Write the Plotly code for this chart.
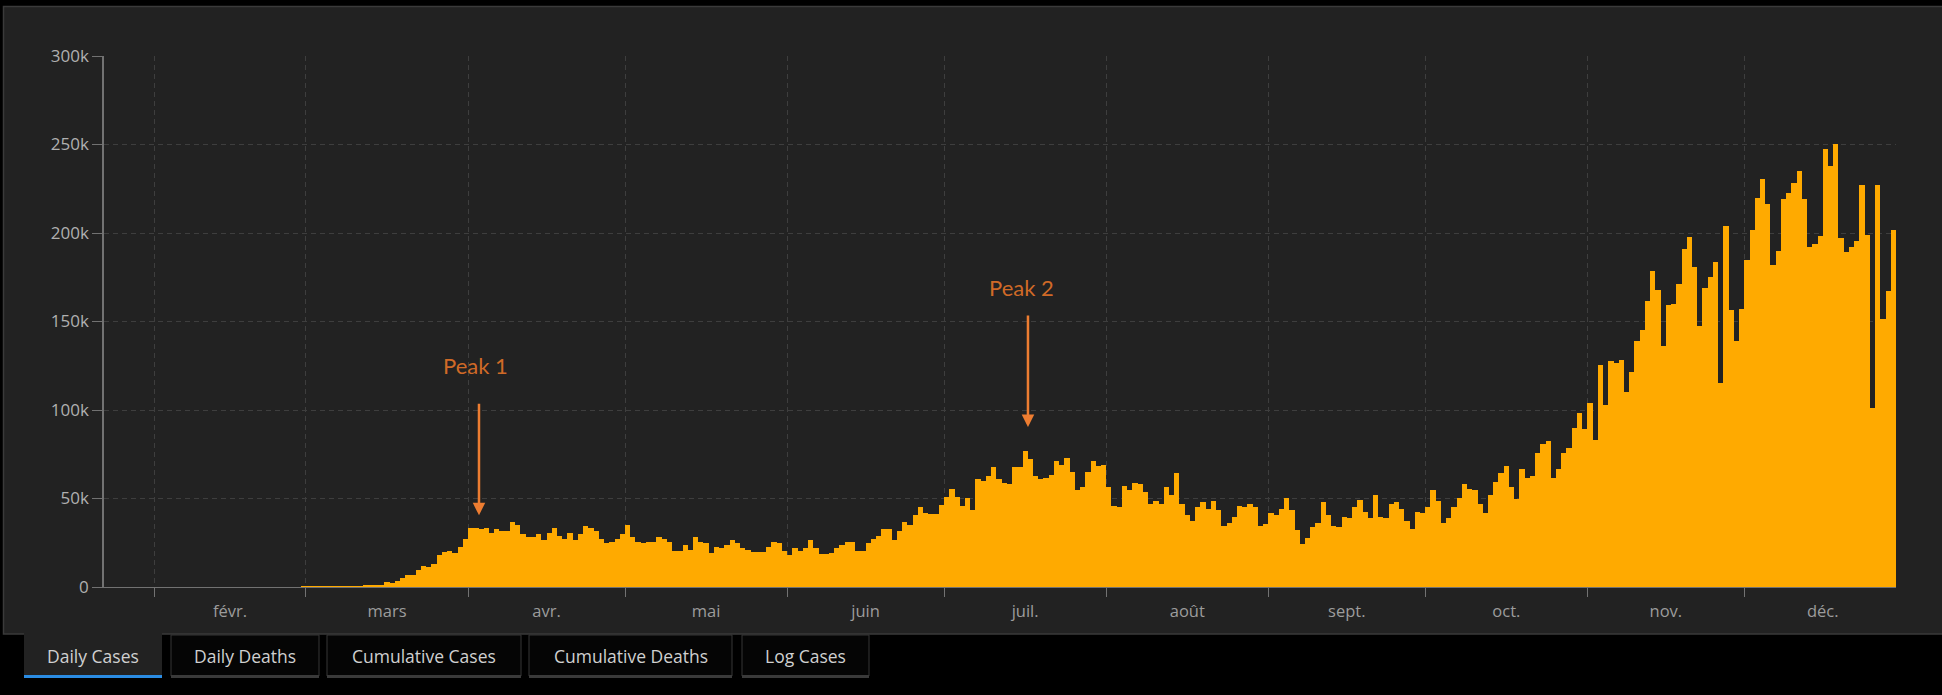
import pandas as pd
import plotly.graph_objects as go

# daily new cases 2020 (thousands), 22 Jan -> 29 Dec
start_date = "2020-01-22"
cases_jan = [0, 0, 0.001, 0, 0.001, 0, 0, 0, 0, 0.001]
cases_feb = [0.001, 0.001, 0, 0, 0.001, 0, 0, 0, 0, 0.001,
             0, 0.001, 0, 0, 0, 0, 0, 0, 0, 0,
             0, 0, 0, 0, 0, 0, 0.001, 0.001, 0.006]
cases_mar = [0.02, 0.02, 0.03, 0.03, 0.07, 0.08, 0.1, 0.12, 0.15, 0.25,
             0.5, 1.2, 1.3, 1.3, 0.8, 2.6, 2.3, 3.4, 5.1, 7.0,
             7.0, 9.4, 12.0, 11.3, 13.0, 18.3, 19.6, 20.2, 19.2, 22.6, 27.0]
cases_apr = [33.3, 33.3, 32.6, 33.3, 30.7, 32.6, 31.6, 31.6, 36.7, 35.2,
             30.0, 28.0, 28.0, 30.0, 26.4, 30.7, 33.3, 29.0, 27.0, 30.7,
             26.4, 29.7, 34.3, 33.3, 31.6, 27.0, 24.7, 25.4, 27.0, 30.0]
cases_may = [35.2, 28.0, 25.4, 24.7, 25.4, 25.4, 28.0, 27.0, 25.4, 20.2,
             20.2, 23.5, 21.0, 28.0, 25.4, 24.7, 19.2, 22.8, 22.0, 23.7,
             26.4, 24.7, 21.8, 21.0, 19.6, 19.6, 19.6, 22.8, 25.4, 24.7, 20.2]
cases_jun = [18.3, 21.8, 20.2, 21.8, 26.4, 21.8, 18.6, 18.6, 19.2, 21.8,
             23.7, 25.4, 25.4, 20.2, 20.2, 24.7, 27.0, 29.0, 32.6, 32.6,
             26.4, 31.6, 36.6, 34.9, 40.8, 45.3, 42.0, 41.0, 41.0, 46.3]
cases_jul = [51.1, 55.6, 51.1, 45.9, 50.2, 43.4, 60.9, 59.9, 62.7, 67.8,
             60.9, 59.0, 58.0, 68.0, 68.0, 76.6, 72.1, 62.7, 60.9, 61.6,
             63.5, 71.3, 68.7, 73.0, 65.2, 54.7, 56.4, 65.2, 71.3, 68.5, 68.7]
cases_aug = [56.4, 45.9, 45.1, 57.3, 54.7, 59.0, 58.0, 53.7, 46.8, 48.5,
             46.8, 56.4, 52.1, 64.2, 46.8, 40.4, 37.3, 45.0, 47.8, 44.2,
             48.7, 43.3, 34.6, 36.3, 39.7, 45.9, 45.1, 46.8, 45.1, 34.6, 35.4]
cases_sep = [41.6, 40.6, 44.2, 50.4, 43.3, 32.0, 24.2, 27.5, 33.7, 36.3,
             47.8, 40.6, 34.6, 33.7, 39.7, 39.0, 45.1, 49.4, 42.5, 39.0,
             52.1, 39.7, 39.0, 46.8, 47.8, 44.2, 37.3, 32.8, 42.5, 41.6]
cases_oct = [45.1, 54.7, 48.5, 36.3, 39.0, 45.1, 50.4, 58.2, 55.6, 54.7,
             46.8, 41.6, 51.9, 59.2, 64.4, 68.5, 56.4, 49.6, 66.9, 61.8,
             62.5, 75.8, 80.9, 82.6, 61.8, 66.9, 75.8, 78.5, 89.9, 98.5, 89.0]
cases_nov = [103.7, 82.8, 125.7, 103.0, 127.5, 126.6, 128.3, 110.0, 121.3, 139.0,
             145.1, 161.6, 178.3, 167.8, 136.1, 159.2, 160.0, 171.3, 190.9, 197.5,
             180.6, 147.3, 168.9, 175.1, 183.6, 115.3, 204.0, 156.7, 139.2, 157.3]
cases_dec = [184.7, 201.5, 220.0, 230.5, 216.6, 182.1, 190.0, 219.0, 222.6, 228.0,
             234.8, 219.0, 191.9, 193.6, 198.1, 247.3, 237.9, 250.1, 197.2, 189.3,
             191.9, 195.5, 227.1, 198.9, 101.1, 227.1, 151.2, 167.0, 201.5]

cases_k = (cases_jan + cases_feb + cases_mar + cases_apr + cases_may + cases_jun
           + cases_jul + cases_aug + cases_sep + cases_oct + cases_nov + cases_dec)
cases = [v * 1000 for v in cases_k]
# each bar covers its whole day (midnight to midnight)
dates = pd.date_range(start_date, periods=len(cases), freq="D") + pd.Timedelta(hours=12)

month_labels = {"Feb": "févr.", "Mar": "mars", "Apr": "avr.", "May": "mai",
                "Jun": "juin", "Jul": "juil.", "Aug": "août", "Sep": "sept.",
                "Oct": "oct.", "Nov": "nov.", "Dec": "déc."}
tab_names = ["Daily Cases", "Daily Deaths", "Cumulative Cases", "Cumulative Deaths", "Log Cases"]
peak_names = ["Peak 1", "Peak 2"]

# page geometry in pixels
W, H = 1942, 695
ML, MR, MT, MB = 104, 46, 56, 108
PW, PH = W - ML - MR, H - MT - MB


def fx(p):
    return (p - ML) / PW


def fy(p):
    return (H - MB - p) / PH


FONT = "'Open Sans', Lato, sans-serif"
PEAK_FONT = "Lato, 'Open Sans', sans-serif"
GRID = "#3e3e3e"
AXIS = "#727272"

fig = go.Figure(go.Bar(x=dates, y=cases, marker_color="#FFAA00",
                       marker_line_width=0, hoverinfo="x+y"))

shapes = [dict(type="rect", xref="paper", yref="paper", layer="below",
               x0=fx(3.5), x1=fx(1960), y0=fy(634), y1=fy(6.5),
               fillcolor="#222222", line=dict(color="#3a3a3a", width=1.5))]
annotations = []

# tab strip under the panel
tab_edges = [(24, 162), (171, 319), (327, 521), (529, 732), (742, 869)]
for i, (name, (a, b)) in enumerate(zip(tab_names, tab_edges)):
    if i == 0:
        shapes.append(dict(type="rect", xref="paper", yref="paper", layer="below",
                           x0=fx(a), x1=fx(b), y0=fy(675), y1=fy(633),
                           fillcolor="#222222", line_width=0))
        shapes.append(dict(type="rect", xref="paper", yref="paper", layer="below",
                           x0=fx(a), x1=fx(b), y0=fy(678), y1=fy(675),
                           fillcolor="#2b8ce3", line_width=0))
    else:
        shapes.append(dict(type="rect", xref="paper", yref="paper", layer="below",
                           x0=fx(a), x1=fx(b), y0=fy(676), y1=fy(635),
                           fillcolor="#050505", line=dict(color="#363636", width=1)))
        shapes.append(dict(type="rect", xref="paper", yref="paper", layer="below",
                           x0=fx(a), x1=fx(b), y0=fy(678), y1=fy(675),
                           fillcolor="#3a3a3a", line_width=0))
    annotations.append(dict(text=name, xref="paper", yref="paper",
                            x=fx((a + b) / 2), y=fy(656), xanchor="center", yanchor="middle",
                            showarrow=False,
                            font=dict(family=FONT, size=17.5, color="#d0d0d0")))

# peak labels and arrows
peak_text_pos = [("2020-04-02 09:00", 125200), ("2020-07-15 20:00", 169400)]
peak_tip_pos = [("2020-04-03 02:00", 40500), ("2020-07-17 01:00", 90400)]
for name, (tx, ty), (ax_, ay_) in zip(peak_names, peak_text_pos, peak_tip_pos):
    annotations.append(dict(text=name, x=tx, y=ty, showarrow=False,
                            xanchor="center", yanchor="middle",
                            font=dict(family=PEAK_FONT, size=22, color="#D06A27")))
    annotations.append(dict(text="", x=ax_, y=ay_, ax=0, ay=-113, showarrow=True,
                            arrowhead=2, arrowsize=1, arrowwidth=2.5,
                            arrowcolor="#ED7D31"))

fig.update_layout(
    width=W, height=H, autosize=False,
    margin=dict(l=ML, r=MR, t=MT, b=MB, pad=0),
    paper_bgcolor="#000000", plot_bgcolor="rgba(0,0,0,0)",
    bargap=0, showlegend=False,
    font=dict(family=FONT, size=15, color="#a8a8a8"),
    shapes=shapes, annotations=annotations,
    xaxis=dict(type="date", range=["2020-01-22 09:20", "2020-12-30 00:00"],
               dtick="M1", tick0="2020-01-01", tickformat="%b",
               ticklabelmode="period", labelalias=month_labels,
               showgrid=True, gridcolor=GRID, griddash="5px,4px", gridwidth=1,
               ticks="outside", ticklen=9, tickcolor=AXIS,
               showline=True, linecolor=AXIS, linewidth=1, zeroline=False,
               tickfont=dict(size=16.5, color="#9c9c9c")),
    yaxis=dict(range=[0, 300000], dtick=50000, tickformat="~s",
               showgrid=True, gridcolor=GRID, griddash="5px,4px", gridwidth=1,
               ticks="outside", ticklen=10, tickcolor=AXIS,
               showline=True, linecolor=AXIS, linewidth=1.5, zeroline=False,
               tickfont=dict(size=17, color="#b0b0b0")),
)

# drop the page's default white body margin so the figure sits at the corner
fig.write_html("out.html", config={"displayModeBar": False},
               post_script="document.body.style.margin='0';document.body.style.background='#000';")
